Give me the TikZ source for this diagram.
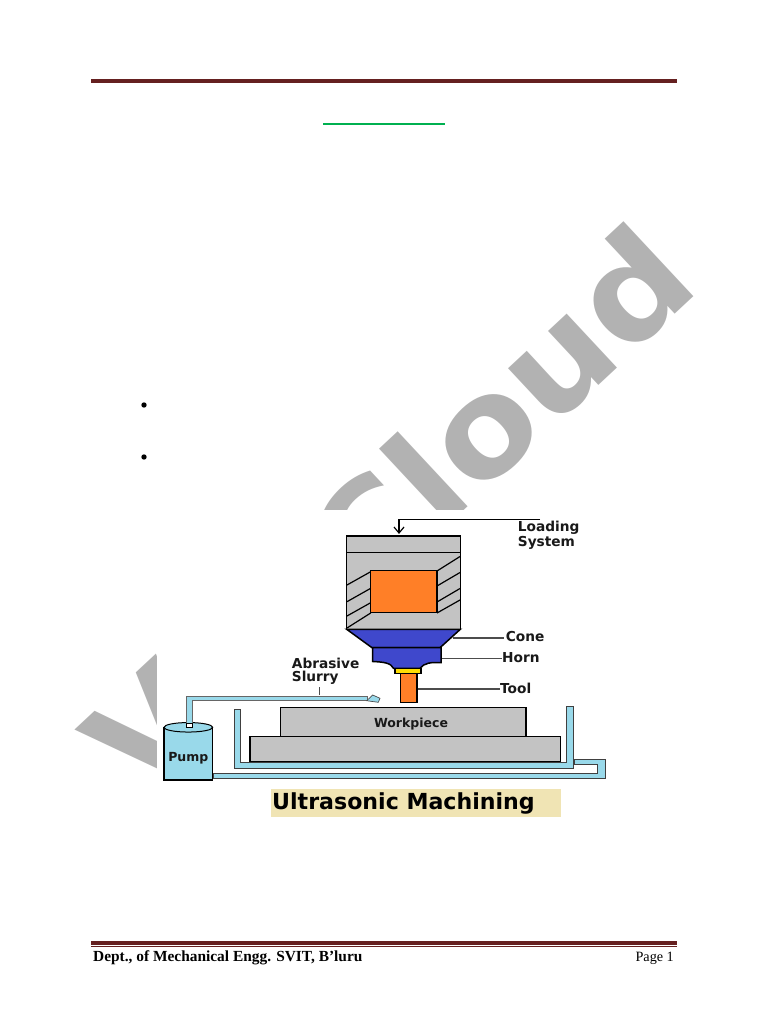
\documentclass[tikz,border=0pt]{standalone}
\usepackage{fontspec}
\setmainfont{Liberation Serif}
\newfontfamily\labelfont{DejaVu Sans}[BoldFont={* Bold}]
\newfontfamily\markfont{DejaVu Sans Bold}[FakeStretch=1.08]
\usetikzlibrary{calc, positioning, shapes.geometric}
\definecolor{rulered}{HTML}{652020}
\definecolor{greyfill}{HTML}{C3C3C3}
\definecolor{markgrey}{HTML}{B2B2B2}
\definecolor{hornblue}{HTML}{3F48CC}
\definecolor{toolorange}{HTML}{FF7F27}
\definecolor{slurryblue}{HTML}{99D9EA}
\definecolor{captionbg}{HTML}{F0E4B4}
\definecolor{titlegreen}{HTML}{00B050}
\begin{document}
\begin{tikzpicture}[x=1pt,y=-1pt,
    part/.style={draw=black, line width=1.5pt, line join=miter},
    slurry/.style={draw=black!75, line width=1pt, fill=slurryblue},
    lab/.style={font=\labelfont\bfseries\fontsize{13.7}{15}\selectfont, inner sep=0pt, anchor=west, text=black!90},
    inlab/.style={font=\labelfont\bfseries\fontsize{12.5}{14}\selectfont, inner sep=0pt, anchor=center, text=black!90},
    lead/.style={draw=black!70, line width=1.1pt},
    wmark/.style={font=\markfont\fontsize{135}{135}\selectfont, text=markgrey, inner sep=0pt, rotate=43}]
  \useasboundingbox (0,0) rectangle (768,1024);

  % watermark, the picture covers most of it
  \node[wmark, anchor=base east] (markb) at (703,288) {Cloud};
  \node[wmark, anchor=base west] (marka) at (141,803) {V};
  \fill[white] (157,510) rectangle (607,820);

  % page rules
  \fill[rulered] (91,79) rectangle (677,83.5);
  \fill[rulered] (91,940.5) rectangle (677,944.5);
  \fill[rulered] (91,945.5) rectangle (677,946.5);
  \fill[titlegreen] (323,123.5) rectangle (445,125);
  \node[circle, fill=black, inner sep=1.9pt] (dota) at (144,405) {};
  \node[circle, fill=black, inner sep=1.9pt] (dotb) at (144,457) {};

  % head
  \draw[part, fill=greyfill] (346.7,536) rectangle (460.3,629.3);
  \draw[part] (346.7,552.7) -- (460.3,552.7);
  \draw[part, fill=toolorange] (370.7,570.7) rectangle (437,612.7);
  \foreach \ya/\yb in {585/571.7, 601.7/588.3, 616/602.7, 628/613}
    \draw[part, line width=1.2pt] (347,\ya) -- (370.7,\yb);
  \foreach \ya/\yb in {571/556.5, 586/572.5, 602/588.5, 613/600}
    \draw[part, line width=1.2pt] (437,\ya) -- (460,\yb);

  % cone, horn, tool
  \draw[part, fill=hornblue] (346.7,629.3) -- (460.3,629.3) -- (440,647.7) -- (372,647.7) -- cycle;
  \draw[part, fill=hornblue] (372.7,647.7) -- (441,647.7) -- (441,662.7)
    .. controls (431,662) and (424,663) .. (420,668.3) -- (393.5,668.3)
    .. controls (391,663) and (384,662) .. (372.7,661.5) -- cycle;
  \draw[part, fill=yellow!80!orange] (395,668.3) rectangle (421,673.5);
  \draw[part, fill=toolorange] (400.7,673.5) rectangle (417,702.7);

  % labels
  \node[lab] (load) at (517.7,528) {Loading};
  \node[lab] (sys) at (517.7,542.5) {System};
  \node[lab] (cone) at (505.7,637) {Cone};
  \node[lab] (horn) at (502,658) {Horn};
  \node[lab] (tool) at (500,688.2) {Tool};
  \node[lab] (abr) at (291.7,663.8) {Abrasive};
  \node[lab] (slu) at (291.7,678) {Slurry};

  \coordinate (loadend) at (540,519.3);
  \coordinate (loadtip) at (399,533);
  \draw[black, line width=1.2pt] (loadend) -- (399,519.3) -- (loadtip);
  \draw[black, line width=1.2pt] (394,527) -- (loadtip) -- (404,527);
  \coordinate (coneend) at (453,638);
  \coordinate (hornend) at (441.5,658.7);
  \coordinate (toolend) at (417.5,689);
  \coordinate (slutick) at (319.3,695);
  \draw[lead] (coneend) -- ($(coneend -| cone.west)+(-2,0)$);
  \draw[lead] (hornend) -- (hornend -| horn.west);
  \draw[lead] (toolend) -- (toolend -| tool.west);
  \draw[lead] (slutick) -- (319.3,686.7);

  % workpiece
  \draw[part, fill=greyfill] (280.7,707.3) rectangle (526,736.7);
  \draw[part, fill=greyfill] (250,736.7) rectangle (560.7,762);
  \node[inlab] (work) at (411,724) {Workpiece};

  % tank
  \draw[slurry] (234,709.3) -- (240.7,709.3) -- (240.7,762) -- (566,762) -- (566,706)
    -- (573.7,706) -- (573.7,768.3) -- (234,768.3) -- cycle;

  % pump and feed pipe
  \fill[slurryblue] (164,727.3) rectangle (212.7,780);
  \draw[part] (164,727.3) -- (164,780) -- (212.7,780) -- (212.7,727.3);
  \node[ellipse, draw=black, line width=1pt, fill=slurryblue, minimum width=48.7pt, minimum height=9.5pt, inner sep=0pt] (pumptop) at (188.3,727.3) {};
  \node[inlab] (pump) at (188.3,758) {Pump};
  \draw[slurry, draw=black!60, fill=slurryblue] (186,723.5) -- (186,696) -- (367,696) -- (367,700.7) -- (192,700.7) -- (192,723.5) -- cycle;
  \draw[black, line width=.9pt, fill=white] (186,723.5) rectangle (192,727.5);
  \draw[draw=black!70, line width=.7pt, fill=slurryblue] (366.7,700.7) -- (372.7,695) -- (380,698.3) -- (378.3,702.3) -- cycle;

  % return pipe
  \draw[slurry] (213,773.3) -- (597,773.3) -- (597,764) -- (574.3,764) -- (574.3,759.3)
    -- (605,759.3) -- (605,778) -- (213,778) -- cycle;

  % caption and footer
  \fill[captionbg] (270.7,789.3) rectangle (561,817.3);
  \node[font=\labelfont\bfseries\fontsize{22.1}{24}\selectfont, inner sep=0pt, anchor=west] (caption) at (272,803.5) {Ultrasonic Machining};
  \node[font=\bfseries\fontsize{15.4}{17}\selectfont, inner sep=0pt, anchor=west] (dept) at (93,958) {Dept., of Mechanical Engg. SVIT, B’luru};
  \node[font=\fontsize{14.2}{16}\selectfont, inner sep=0pt, anchor=east] (page) at (674,958) {Page 1};
\end{tikzpicture}
\end{document}
